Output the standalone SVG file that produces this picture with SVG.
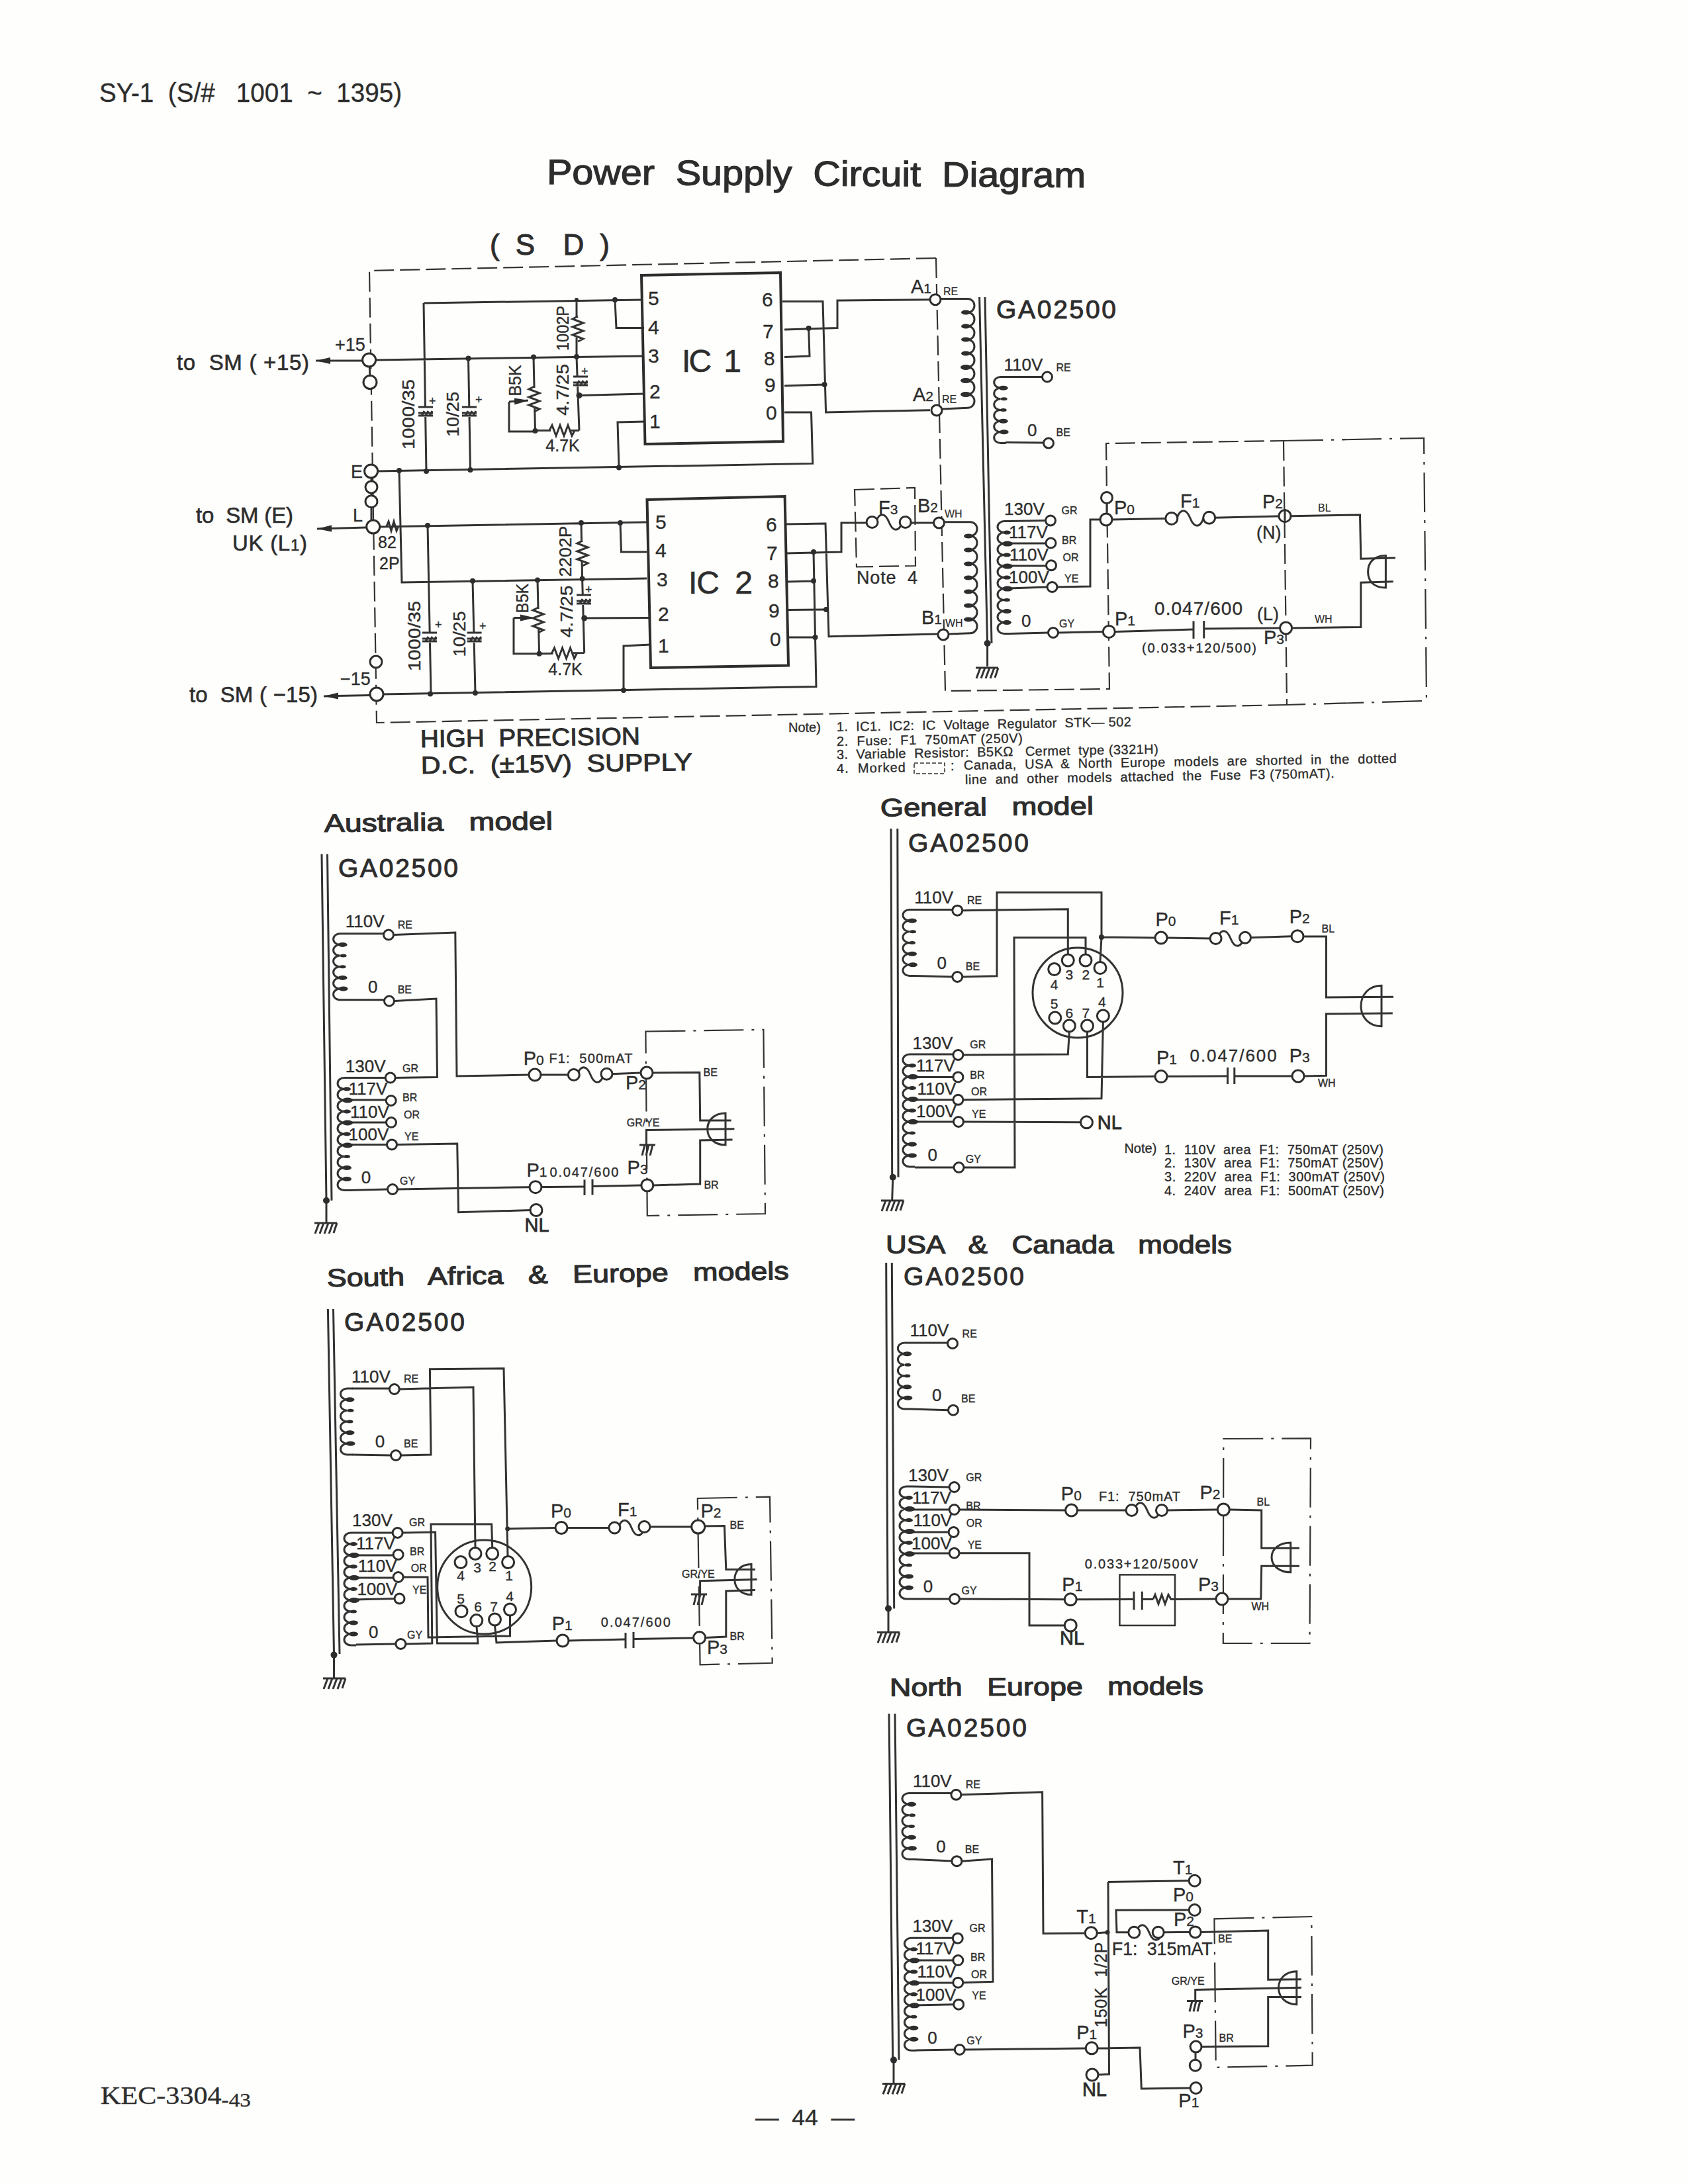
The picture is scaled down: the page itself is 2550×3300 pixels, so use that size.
<svg xmlns="http://www.w3.org/2000/svg" width="2550" height="3300" viewBox="0 0 2550 3300">
<style>
text{font-family:"Liberation Sans",Arial,sans-serif;fill:#2d2d2d;stroke:#2d2d2d;stroke-width:.35;white-space:pre}
.w path{fill:none;stroke:#333;stroke-width:3;stroke-linejoin:miter}
.d{fill:none;stroke:#333;stroke-width:2.2;stroke-dasharray:30 9}
.dd{fill:none;stroke:#333;stroke-width:2.2;stroke-dasharray:60 12 4 12}
.ln{fill:none;stroke:#333;stroke-width:3}
.box{fill:none;stroke:#2d2d2d;stroke-width:4}
.t{fill:#fefefc;stroke:#2d2d2d;stroke-width:3}
.dot{fill:#2d2d2d}
.v{font-size:26px}
.c{font-size:16px;stroke-width:.2px}
.p{font-size:29px}
.sub{font-size:21px}
.h{font-size:38px;stroke-width:1.2px}
.g{font-size:39px;stroke-width:1px}
.m{font-size:20px}
.n{font-size:20px}
.pin{font-size:30px}
.ic{font-size:48px;stroke-width:.6px}
.big{font-size:33px;stroke-width:.6px}
.rot{font-size:25px;text-anchor:middle}
.mid{text-anchor:middle}
.soc{font-size:21px;text-anchor:middle}
</style>
<defs>
<marker id="arr" markerUnits="userSpaceOnUse" markerWidth="24" markerHeight="12" refX="22" refY="6" orient="auto"><path d="M0,1 L22,6 L0,11 Z" fill="#2d2d2d"/></marker>
<g id="coilU"><path class="ln" d="M18,0 H10 a10,8.33 0 0 0 0,16.67 a10,8.33 0 0 0 0,16.67 a10,8.33 0 0 0 0,16.67 a10,8.33 0 0 0 0,16.67 a10,8.33 0 0 0 0,16.67 a10,8.33 0 0 0 0,16.67 H18"/><g class="dot"><ellipse cx="14" cy="16.7" rx="7" ry="3.5"/><ellipse cx="15" cy="33.3" rx="5" ry="2.5"/><ellipse cx="14" cy="50" rx="5" ry="2.5"/><ellipse cx="14" cy="66.7" rx="7" ry="3.5"/><ellipse cx="15" cy="83.3" rx="7" ry="3.5"/></g></g>
<g id="coilL"><path class="ln" d="M18,0 H10 a10,8.5 0 0 0 0,17 a10,8.5 0 0 0 0,17 a10,8.5 0 0 0 0,17 a10,8.5 0 0 0 0,17 a10,8.5 0 0 0 0,17 a10,8.5 0 0 0 0,17 a10,8.5 0 0 0 0,17 a10,8.5 0 0 0 0,17 a10,8.5 0 0 0 0,17 a10,8.5 0 0 0 0,17 H18"/><g class="dot"><ellipse cx="14" cy="17" rx="6" ry="3"/><ellipse cx="15" cy="34" rx="8" ry="4"/><ellipse cx="14" cy="51" rx="6" ry="3"/><ellipse cx="15" cy="68" rx="8" ry="4"/><ellipse cx="14" cy="85" rx="6" ry="3"/><ellipse cx="15" cy="102" rx="8" ry="4"/><ellipse cx="14" cy="119" rx="5" ry="2.5"/><ellipse cx="14" cy="136" rx="7" ry="3.5"/><ellipse cx="14" cy="153" rx="7" ry="3.5"/></g></g>
<g id="gnd"><path class="ln" d="M-17,0 H17 M-10,0 l-6,16 M-3,0 l-6,16 M4,0 l-6,16 M11,0 l-6,16 M17,0 l-5,15"/></g>
<g id="gnds"><path class="ln" d="M-12,0 H12 M-4,0 l-4,16 M2,0 l-4,16 M8,0 l-4,16"/></g>
<path id="wave" class="ln" d="M0,0 c5,-15 14,-15 20,0 c6,15 15,15 20,0"/>
<g id="rh"><rect x="-15" y="-9" width="30" height="18" fill="#fefefc"/><path class="ln" d="M-17,0 l4,-8 l6,16 l6,-16 l6,16 l6,-16 l6,16 l4,-8"/></g>
<g id="rv"><rect x="-9" y="-15" width="18" height="30" fill="#fefefc"/><path class="ln" d="M0,-17 l-8,4 l16,6 l-16,6 l16,6 l-16,6 l16,6 l-8,4"/></g>
<g id="ecap"><rect x="-10" y="-8" width="20" height="16" fill="#fefefc"/><path class="ln" stroke-width="2" d="M-11,-7 H11 M-11,6 H11 M-11,2 H11 M-6,6 L-2,-1 M0,6 L4,-1 M6,6 L10,-1"/></g>
</defs>
<rect id="page" width="2550" height="3300" fill="#fefefc"/>

<g id="page-text">
<text x="150" y="154" font-size="40" textLength="457" lengthAdjust="spacingAndGlyphs">SY-1  (S/#   1001  ~  1395)</text>
<text x="826" y="278" font-size="53" style="stroke-width:1.2px" textLength="814" lengthAdjust="spacingAndGlyphs" transform="rotate(.35 826 278)">Power  Supply  Circuit  Diagram</text>
<text x="152" y="3179" font-size="38" style="font-family:'Liberation Serif',serif" textLength="227" lengthAdjust="spacingAndGlyphs">KEC-3304<tspan font-size="30" dy="4">-43</tspan></text>
<text x="1141" y="3211" font-size="34" textLength="150" lengthAdjust="spacingAndGlyphs">—  44  —</text>
</g>

<g id="connectors" class="w">
<g id="wires-main">
<path d="M640,458 L969,453 M640,458 L644,712 M929,453 L931,495.5 L973,495.5 M567,544 L973,538 M707.5,541.6 L710.5,710 M570,712 L1227.7,700.4 L1225.5,623 L1185,623 M935,706.4 L933,638 L974.5,637 M603,711 L607,880 L977,874 M871,453 L871,539 L875,650.6 M875,597.5 L973,595 M808.5,650.6 L875,650.6 M806,539.5 L808.5,650.6 M769,607 L769,652 L808.5,652"/>
<path d="M769,607 L799,605" marker-end="url(#arr)"/>
<path d="M1182,455.4 L1243,455.4 L1247.6,623 L1405,619.7 M1185,498 L1265,495.5 L1265,454 L1404,452.7 M1221.6,496 L1223,538 L1185,539.5 M1185,583 L1245.5,581"/>
<path d="M575,796 L977,789 M937,790 L938.5,834 L977,834 M646,794 L651,1048 M714,877.7 L718,1047 M878,790 L879.6,874.4 L882.7,986.6 M882.7,934 L983,933.5 M814.6,987.7 L882.7,986.6 M812,876.6 L814.6,987.7 M776,933.5 L776,987.7 L814.6,987.7"/>
<path d="M776,933.5 L808,933.5" marker-end="url(#arr)"/>
<path d="M577.5,1049 L1233,1037.5 L1231.5,963 L1191,963 M942,1043 L942,976 L983,974 M1188,792 L1247,791 L1252,961.7 L1416.6,958 M1188,836 L1271,834 L1271,790 L1309,790 M1229,834 L1231.5,963 M1189,879 L1229,878 M1191,921.6 L1248,921 M1376,790 L1410,790"/>
<path d="M558,544 L559,577 M561,712 L561,796"/>
<path d="M547,545 L477,545" marker-end="url(#arr)"/>
<path d="M554,797 L479,799" marker-end="url(#arr)"/>
<path d="M560,1050.5 L489,1052" marker-end="url(#arr)"/>
<path d="M1519,569.5 H1574 M1519,668.5 L1576,669 M1525,787.6 L1579,786.6 M1521,821 H1579 M1521,855 H1580 M1521,889 L1582,887 M1525,957.6 L1583,956 M1597,887 L1647,886 L1647,785 L1661,785"/>
<path d="M1599,956 L1665,954.5 M1685,954.4 L1803,951 M1818.7,950 L1933,949"/>
<path d="M1681,785 L1761,783.4 M1835,782.3 L1931,780 M1951,779.7 L2054.5,778 L2055.8,844.3 L2108,843 M1952,949 L2055.8,947.5 L2055.8,880.3 L2104.8,878.7 M1672,760 V775"/>
<path d="M1941,769 V790"/>
</g>
<g id="wires-australia">
<path d="M521,1410.7 H580 M521,1510.7 H581 M528,1628.5 H582 M524,1662 H583 M524,1696 H584 M524,1729.5 H585 M528,1798.5 L586,1797"/>
<path d="M595,1412.5 L687.8,1409 L690,1626 L799,1624 M596,1512.5 L659,1509 L660.5,1627.6 L598,1628.5 M600,1729.4 L690.7,1728 L692.6,1831.7 L802,1828.5 M601,1797 L800,1793.7 L883,1793 M895,1792.5 L968,1791 M817,1624 L859,1624 M924,1622.7 L968,1621 M986,1621 L1056.8,1620.5 L1057.7,1693 L1104.6,1693 M987,1791 L1057.7,1789 L1057.7,1723 L1106.5,1722 M976.4,1729 L976.4,1707.6 L1109.4,1705.8"/>
</g>
<g id="wires-southafrica">
<path d="M532,2098 H588 M532,2198 L590,2199 M538,2316 H593 M534,2350 H594 M534,2384 H594 M534,2417 L596,2415.6 M538,2485 L597,2484"/>
<path d="M603,2099 L715,2096 L718,2338 M606,2199 L651,2198 L649.4,2068.7 L761,2067.8 L767,2351 M608,2316 L657.6,2315 L660.4,2483 L722,2483 L720,2458 M613,2484 L652.8,2483 L651,2303 L742.7,2303 L743.7,2338 M609,2383 L646,2383 L647,2474 L770.5,2472 L770.5,2441 M747.5,2456 L750,2482 L841,2479 M858,2479 L945,2477 M957,2476.5 L1047,2475 M766.7,2310 L840,2308.5 M857,2308.5 L920,2308.5 M982,2307 L1045,2307 M1064,2306 L1094.4,2305.5 L1096.8,2371.4 L1141,2371.4 M1066,2474.6 L1096.8,2473 L1096.8,2404 L1141,2402.6 M1057.6,2408 L1057.6,2388.7 L1143.7,2386.6"/>
</g>
<g id="wires-general">
<path d="M1382,1374.5 H1439 M1382,1474.5 L1439,1476 M1382,1593 H1440 M1378,1627.4 H1440 M1378,1661.8 H1440 M1378,1695 H1441 M1382,1764 H1441"/>
<path d="M1454,1375.7 L1613.3,1373.7 L1613.3,1442 M1454,1476 L1506,1474.8 L1506,1348.4 L1664,1348.4 L1664,1416 L1662,1453 M1456,1764 L1533,1764 L1532,1416.8 L1640,1416.8 L1640,1442 M1455,1594 L1613.3,1593 L1615.4,1559 M1455,1661.8 L1664,1659.7 L1666.4,1544 M1456,1695 L1633,1695.8 M1642.5,1559 L1642.5,1627.4 L1745,1626.6 M1763,1626.6 L1854.5,1626 M1864.8,1626 L1952,1626 M1970,1626 L2003.5,1625.3 L2003.5,1532 L2103.8,1531 M1664,1416 L1745,1417 M1763,1417 L1829,1418 M1889,1416.8 L1951,1414.7 M1969,1415 L2003.5,1415 L2003.5,1507 L2105,1506.3"/>
</g>
<g id="wires-usa">
<path d="M1374,2029 H1432 M1374,2129 L1433,2130.7 M1377,2246 L1434,2247 M1373,2281 H1434 M1373,2315 H1433 M1373,2347 H1434 M1377,2416 H1435"/>
<path d="M1449,2281 L1609,2282 M1628,2282 L1702,2282 M1764,2282 L1839,2281 M1858,2281 L1905.7,2282 L1905.7,2339.2 L1963,2339.2 M1449,2346.7 L1555,2346.7 L1555,2456 L1608,2456 M1450,2416 L1608,2416.8 M1627,2416.8 L1713,2416.5 M1725.3,2416.5 L1742,2416.5 M1772,2416.5 L1837,2416 M1855,2416 L1904.8,2416 L1905.7,2366.2 L1963,2366.2"/>
</g>
<g id="wires-north">
<path d="M1381,2709.5 H1437 M1381,2809.5 L1438,2812 M1384,2928.3 H1439 M1380,2962 H1440 M1380,2996 H1440 M1380,3030 L1441,3028.7 M1384,3098 L1442,3097"/>
<path d="M1452,2711.8 L1574.6,2707.8 L1576,2921.6 L1640,2921 M1657,2920.7 L1673,2919.8 M1453,2812.2 L1498.5,2809 L1500,2994.3 L1455,2995.7 M1457,3097 L1640,3095 M1659,3095 L1722,3094 L1724.3,3156 L1798,3155 M1674,2843.5 L1675.5,3134 L1658,3135 M1674,2843.5 L1796,2841.7 M1796,2886 L1686,2886.3 L1687,2919.8 L1705,2919.8 M1758,2919.8 L1797,2919.4 M1814,2919.4 L1915.7,2917 L1915.7,2991.2 L1966,2990.8 M1815,3092.6 L1915.7,3091.7 L1915.7,3017.6 L1966,3017.6 M1806,3100 L1806,3112 M1805.7,3023.4 L1805.7,3006.4 L1966,3003.3"/>
</g>
</g>

<g id="frames">
<path class="d" d="M1414,390 L558,409 L569,1092 L1944,1065"/>
<path class="d" d="M1414,390 L1428,1044 L1676,1041 L1671,670 L1939,666"/>
<path class="dd" d="M1939,666 L2151,662 L2155,1059 L1944,1065"/>
<path class="d" d="M1939,666 L1944,1065"/>
<path class="d" d="M1291,740 L1382,737 L1383,855 L1294,856.5 Z"/>
<path class="dd" d="M975.4,1558.5 L1153.4,1555.8 L1156,1834 L977.8,1837 Z"/>
<path class="dd" d="M1053.8,2264 L1163,2261.7 L1166.7,2512.8 L1057.6,2515.4 Z"/>
<path class="dd" d="M1848.3,2174 L1980,2173.4 L1978.5,2483 L1847.8,2483 Z"/>
<path class="dd" d="M1834.4,2899.3 L1981.3,2896 L1982.7,3120.7 L1836.8,3123.8 Z"/>
</g>

<g id="main-labels">
<text x="740" y="385" font-size="44" textLength="181" style="stroke-width:1px">( S  D )</text>
<text class="big" x="267" y="559" textLength="200">to  SM ( +15)</text>
<text class="big" x="296" y="790" textLength="147">to  SM (E)</text>
<text class="big" x="351" y="832" textLength="113">UK (L<tspan font-size="24">1</tspan>)</text>
<text class="big" x="286" y="1061" textLength="194">to  SM ( −15)</text>
<text x="506" y="530" font-size="27">+15</text>
<text x="514" y="1035" font-size="27">−15</text>
<text x="530" y="722" font-size="27">E</text>
<text x="533" y="788" font-size="27">L</text>
<text x="571" y="828" font-size="25">82</text>
<text x="573" y="860" font-size="25">2P</text>
<text x="635" y="1129" font-size="37" style="stroke-width:1px" textLength="332" lengthAdjust="spacingAndGlyphs" transform="rotate(-.7 635 1129)">HIGH  PRECISION</text>
<text x="636" y="1169" font-size="37" style="stroke-width:1px" textLength="410" lengthAdjust="spacingAndGlyphs" transform="rotate(-.7 636 1169)">D.C.  (±15V)  SUPPLY</text>
</g>

<g id="ic1">
<path class="box" d="M969,416 L1179,412 L1183,667 L974.5,671 Z"/>
<text class="ic" x="1030" y="562" textLength="90">IC  1</text>
<g class="pin"><text x="979" y="461">5</text><text x="979" y="505">4</text><text x="979" y="548">3</text><text x="981" y="602">2</text><text x="981" y="647">1</text><text x="1151" y="463">6</text><text x="1152" y="511">7</text><text x="1154" y="552">8</text><text x="1155" y="592">9</text><text x="1157" y="634">0</text></g>
</g>
<g id="ic2">
<path class="box" d="M977.5,755 L1185.6,750 L1191,1005.6 L983,1009 Z"/>
<text class="ic" x="1040" y="897" textLength="97">IC  2</text>
<g class="pin"><text x="990" y="799">5</text><text x="990" y="842">4</text><text x="992" y="886">3</text><text x="994" y="938">2</text><text x="994" y="986">1</text><text x="1157" y="803">6</text><text x="1158" y="846">7</text><text x="1160" y="888">8</text><text x="1161" y="933">9</text><text x="1163" y="976">0</text></g>
</g>
<g id="ic1-parts">
<use href="#ecap" x="643" y="622"/><use href="#ecap" x="709" y="622"/><use href="#ecap" x="877" y="576"/>
<use href="#rv" x="873" y="495"/><use href="#rv" x="807" y="601"/><use href="#rh" x="847" y="650.5"/>
<g class="dot"><circle cx="707.5" cy="541.6" r="4"/><circle cx="806" cy="539.5" r="4"/><circle cx="871" cy="539" r="4"/><circle cx="929" cy="453" r="4"/><circle cx="871" cy="453" r="3"/><circle cx="875" cy="597.5" r="4.5"/><circle cx="808.5" cy="651" r="4"/><circle cx="644" cy="712" r="4"/><circle cx="710.5" cy="710" r="4"/><circle cx="935" cy="706.4" r="4"/><circle cx="603" cy="711" r="4"/><circle cx="1221.6" cy="496" r="4"/><circle cx="1245.5" cy="581" r="4"/></g>
<text transform="translate(859,496) rotate(-90)" class="rot" textLength="68" lengthAdjust="spacingAndGlyphs">1002P</text><text transform="translate(859,589) rotate(-90)" class="rot" textLength="78" lengthAdjust="spacingAndGlyphs">4.7/25</text><text transform="translate(787,575) rotate(-90)" class="rot" textLength="47" lengthAdjust="spacingAndGlyphs">B5K</text><text transform="translate(626,626) rotate(-90)" class="rot" textLength="106" lengthAdjust="spacingAndGlyphs">1000/35</text><text transform="translate(693,626) rotate(-90)" class="rot" textLength="68" lengthAdjust="spacingAndGlyphs">10/25</text>
<text x="648" y="612" font-size="18">+</text><text x="718" y="610" font-size="18">+</text><text x="878" y="567" font-size="18">+</text>
<text x="850" y="682" font-size="25" class="mid">4.7K</text>
</g>
<g id="ic2-parts">
<use href="#ecap" x="649" y="963"/><use href="#ecap" x="716.6" y="963"/><use href="#ecap" x="882" y="906"/>
<use href="#rv" x="880" y="834"/><use href="#rv" x="813" y="935"/><use href="#rh" x="850.5" y="987"/>
<path class="ln" d="M584,795 l3,-7 l4,14 l4,-14 l4,14 l3,-7"/>
<g class="dot"><circle cx="646" cy="794" r="4"/><circle cx="878" cy="790" r="4"/><circle cx="937" cy="790" r="4"/><circle cx="714" cy="877.7" r="4"/><circle cx="812" cy="876.6" r="4"/><circle cx="879.6" cy="874.4" r="4"/><circle cx="882.7" cy="934" r="4.5"/><circle cx="814.6" cy="987.7" r="4"/><circle cx="650" cy="1048.4" r="4"/><circle cx="718" cy="1047" r="4"/><circle cx="942" cy="1043" r="4"/><circle cx="1229" cy="834" r="4"/><circle cx="1229" cy="877.7" r="4"/><circle cx="1248" cy="921" r="4"/><circle cx="1231.5" cy="963" r="4"/></g>
<text transform="translate(863,833) rotate(-90)" class="rot" textLength="77" lengthAdjust="spacingAndGlyphs">2202P</text><text transform="translate(865,924) rotate(-90)" class="rot" textLength="79" lengthAdjust="spacingAndGlyphs">4.7/25</text><text transform="translate(798,904) rotate(-90)" class="rot" textLength="45" lengthAdjust="spacingAndGlyphs">B5K</text><text transform="translate(635,961) rotate(-90)" class="rot" textLength="106" lengthAdjust="spacingAndGlyphs">1000/35</text><text transform="translate(703,958) rotate(-90)" class="rot" textLength="69" lengthAdjust="spacingAndGlyphs">10/25</text>
<text x="657" y="950" font-size="18">+</text><text x="724" y="952" font-size="18">+</text><text x="884" y="897" font-size="18">+</text>
<text x="854" y="1020" font-size="25" class="mid">4.7K</text>
</g>
<g id="main-terminals">
<circle class="t" cx="557.6" cy="544" r="10"/><circle class="t" cx="559" cy="577.6" r="10"/><circle class="t" cx="560.6" cy="712" r="10"/><circle class="t" cx="561" cy="736" r="9"/><circle class="t" cx="561" cy="757.7" r="9"/><circle class="t" cx="563.7" cy="796" r="10"/><circle class="t" cx="568" cy="1000" r="9"/><circle class="t" cx="569" cy="1049" r="10"/>
<circle class="t" cx="1413" cy="452.7" r="8"/><circle class="t" cx="1415" cy="620" r="8"/><circle class="t" cx="1418.5" cy="790" r="8"/><circle class="t" cx="1425" cy="959" r="8"/>
<text class="p" x="1376" y="443">A<tspan class="sub">1</tspan></text><text class="p" x="1379" y="606">A<tspan class="sub">2</tspan></text><text class="p" x="1386" y="774">B<tspan class="sub">2</tspan></text><text class="p" x="1392" y="943">B<tspan class="sub">1</tspan></text>
<text class="c" x="1425" y="446">RE</text><text class="c" x="1423" y="609">RE</text><text class="c" x="1427" y="782">WH</text><text class="c" x="1428" y="947">WH</text>
</g>
<g id="fuse-f3">
<use href="#wave" x="1323" y="789"/><circle class="t" cx="1317.5" cy="789" r="8.5"/><circle class="t" cx="1367.7" cy="789" r="8.5"/>
<text class="p" x="1327" y="777">F<tspan class="sub">3</tspan></text>
<text x="1294" y="882" font-size="27" textLength="92">Note  4</text>
</g>
<g id="main-transformer">
<path class="ln" d="M1479.6,449 L1491.6,972 M1488,449 L1498,972 M1491.6,972 L1491.6,1007"/>
<circle class="dot" cx="1491.6" cy="972" r="5"/>
<use href="#gnd" x="1491" y="1009"/>
<path class="ln" d="M1421,451.5 H1462 a10,10.3 0 0 1 0,20.6 a10,10.3 0 0 1 0,20.6 a10,10.3 0 0 1 0,20.6 a10,10.3 0 0 1 0,20.6 a10,10.3 0 0 1 0,20.6 a10,10.3 0 0 1 0,20.6 a10,10.3 0 0 1 0,20.6 a10,10.3 0 0 1 0,20.6 L1423,618"/>
<path class="ln" d="M1426,788.7 H1466 a10,10.5 0 0 1 0,21 a10,10.5 0 0 1 0,21 a10,10.5 0 0 1 0,21 a10,10.5 0 0 1 0,21 a10,10.5 0 0 1 0,21 a10,10.5 0 0 1 0,21 a10,10.5 0 0 1 0,21 a10,10.5 0 0 1 0,21 L1433,958"/>
<g class="dot"><ellipse cx="1459" cy="472" rx="7" ry="3.5"/><ellipse cx="1459" cy="493" rx="7" ry="3.5"/><ellipse cx="1459" cy="513" rx="7" ry="3.5"/><ellipse cx="1459" cy="534" rx="7" ry="3.5"/><ellipse cx="1459" cy="555" rx="8" ry="4"/><ellipse cx="1459" cy="575" rx="8" ry="4"/><ellipse cx="1459" cy="596" rx="8" ry="4"/>
<ellipse cx="1463" cy="810" rx="7" ry="3.5"/><ellipse cx="1463" cy="831" rx="7" ry="3.5"/><ellipse cx="1463" cy="852" rx="7" ry="3.5"/><ellipse cx="1463" cy="873" rx="7" ry="3.5"/><ellipse cx="1463" cy="894" rx="7" ry="3.5"/><ellipse cx="1463" cy="915" rx="7" ry="3.5"/><ellipse cx="1463" cy="936" rx="7" ry="3.5"/></g>
<use href="#coilU" x="1501.7" y="569.5"/><use href="#coilL" x="1507" y="787.6"/>
<circle class="t" cx="1582" cy="569.5" r="7.5"/><circle class="t" cx="1584" cy="669.6" r="7.5"/><circle class="t" cx="1587" cy="786.6" r="7.5"/><circle class="t" cx="1587.5" cy="820.5" r="7.5"/><circle class="t" cx="1588" cy="854.3" r="7.5"/><circle class="t" cx="1589.5" cy="887" r="7.5"/><circle class="t" cx="1591" cy="956" r="7.5"/>
<text class="g" x="1505" y="481" textLength="181">GA02500</text>
<g class="v"><text x="1516.5" y="560">110V</text><text x="1552" y="659">0</text><text x="1517" y="778">130V</text><text x="1524" y="812.5">117V</text><text x="1525" y="847">110V</text><text x="1524" y="881">100V</text><text x="1543" y="946.5">0</text></g>
<g class="c"><text x="1595.5" y="561">RE</text><text x="1595.5" y="659">BE</text><text x="1603.6" y="777">GR</text><text x="1604" y="822">BR</text><text x="1605.6" y="847.5">OR</text><text x="1608" y="880">YE</text><text x="1600" y="948">GY</text></g>
</g>
<g id="main-output">
<use href="#wave" x="1778" y="783"/>
<path class="ln" d="M1803,938.5 V965 M1818.7,938 V964.5"/>
<path class="ln" d="M2093.4,839.5 C2075,840 2066.6,850 2066.6,864 C2066.6,878 2075,888 2093.4,888 Z"/>
<circle class="t" cx="1672" cy="752" r="8.5"/><circle class="t" cx="1671" cy="785" r="9"/><circle class="t" cx="1769.8" cy="783.4" r="9"/><circle class="t" cx="1826.7" cy="782.3" r="9"/><circle class="t" cx="1941" cy="779.7" r="9"/><circle class="t" cx="1675.3" cy="954.4" r="9"/><circle class="t" cx="1942.6" cy="949" r="9"/>
<path class="ln" d="M1941,771 V789"/>
<text class="p" x="1683" y="777">P<tspan class="sub">0</tspan></text><text class="p" x="1783" y="767">F<tspan class="sub">1</tspan></text><text class="p" x="1907" y="768">P<tspan class="sub">2</tspan></text><text class="p" x="1684" y="945">P<tspan class="sub">1</tspan></text><text class="p" x="1909" y="973">P<tspan class="sub">3</tspan></text>
<text x="1898" y="814" font-size="27">(N)</text><text x="1899" y="937" font-size="27">(L)</text>
<text x="1744" y="929" font-size="28" textLength="133">0.047/600</text><text x="1725" y="986" font-size="20" textLength="173">(0.033+120/500)</text>
<text class="c" x="1991" y="773">BL</text><text class="c" x="1986" y="941">WH</text>
</g>
<g id="main-notes" class="n">
<text x="1191" y="1106">Note)</text>
<text x="1264" y="1105" textLength="445" transform="rotate(-1 1264 1105)">1.  IC1.  IC2:  IC  Voltage  Regulator  STK— 502</text>
<text x="1264" y="1127" textLength="281" transform="rotate(-1 1264 1127)">2.  Fuse:  F1  750mAT (250V)</text>
<text x="1264" y="1147" textLength="486" transform="rotate(-1 1264 1147)">3.  Variable  Resistor:  B5KΩ   Cermet  type (3321H)</text>
<text x="1264" y="1168" textLength="104" transform="rotate(-1 1264 1168)">4.  Morked</text>
<rect x="1381" y="1153" width="46" height="16" fill="none" stroke="#333" stroke-width="1.6" stroke-dasharray="6 3"/>
<text x="1436" y="1164">:</text>
<text x="1456" y="1163" textLength="654" transform="rotate(-.9 1456 1163)">Canada,  USA  &amp;  North  Europe  models  are  shorted  in  the  dotted</text>
<text x="1458" y="1185" textLength="558" transform="rotate(-1 1458 1185)">line  and  other  models  attached  the  Fuse  F3 (750mAT).</text>
</g>

<g id="australia">
<text class="h" x="490" y="1257" textLength="345" lengthAdjust="spacingAndGlyphs" transform="rotate(-.6 490 1257)">Australia   model</text>
<text class="g" x="511" y="1325" textLength="181">GA02500</text>
<path class="ln" d="M486,1290.6 L493,1814 M494.5,1290.6 L501,1814 M493,1814 V1847"/>
<circle class="dot" cx="493" cy="1814" r="5"/><use href="#gnd" x="492" y="1848"/>
<use href="#coilU" x="503.6" y="1410.7"/><use href="#coilL" x="510" y="1628.5"/>
<use href="#wave" x="872" y="1624"/>
<path class="ln" d="M883,1782.6 V1806 M895,1782 V1805.5"/>
<use href="#gnds" x="978" y="1730"/>
<path class="ln" d="M1096,1682 C1080,1682 1068.7,1692 1068.7,1706 C1068.7,1720 1080,1730 1096,1730 Z"/>
<circle class="t" cx="587" cy="1412.5" r="7.5"/><circle class="t" cx="588" cy="1512.5" r="7.5"/><circle class="t" cx="589.7" cy="1628.5" r="7.5"/><circle class="t" cx="590.7" cy="1663" r="7.5"/><circle class="t" cx="591" cy="1696" r="7.5"/><circle class="t" cx="592" cy="1729.4" r="7.5"/><circle class="t" cx="593" cy="1797" r="7.5"/>
<circle class="t" cx="808" cy="1624" r="9"/><circle class="t" cx="866.8" cy="1624" r="8.5"/><circle class="t" cx="916.5" cy="1622.7" r="8.5"/><circle class="t" cx="977" cy="1621" r="9"/><circle class="t" cx="809" cy="1793.7" r="9"/><circle class="t" cx="977.8" cy="1791" r="9"/><circle class="t" cx="810" cy="1828.5" r="9"/>
<g class="v"><text x="521.8" y="1401">110V</text><text x="556" y="1500">0</text><text x="521.8" y="1620">130V</text><text x="526.6" y="1654">117V</text><text x="529" y="1689">110V</text><text x="526.6" y="1723">100V</text><text x="545.7" y="1788">0</text></g>
<g class="c"><text x="600.7" y="1403">RE</text><text x="600.7" y="1501">BE</text><text x="608" y="1620">GR</text><text x="608" y="1664">BR</text><text x="610" y="1690">OR</text><text x="611" y="1723">YE</text><text x="604" y="1790">GY</text><text x="1062.5" y="1626">BE</text><text x="1063.4" y="1796">BR</text><text x="946.7" y="1702">GR/YE</text></g>
<text class="p" x="790.7" y="1608.5">P<tspan class="sub">0</tspan></text><text class="m" x="829.4" y="1606" textLength="126">F1:  500mAT</text><text class="p" x="945" y="1645.5">P<tspan class="sub">2</tspan></text><text class="p" x="795.5" y="1778">P<tspan class="sub">1</tspan></text><text class="m" x="830.4" y="1778" textLength="104">0.047/600</text><text class="p" x="947.6" y="1773.6">P<tspan class="sub">3</tspan></text><text class="p mid" x="811" y="1861" style="stroke-width:.8px">NL</text>
</g>

<g id="south-africa">
<text class="h" x="494" y="1944" textLength="698" lengthAdjust="spacingAndGlyphs" transform="rotate(-.9 494 1944)">South   Africa   &amp;   Europe   models</text>
<text class="g" x="520" y="2011" textLength="182">GA02500</text>
<path class="ln" d="M495.4,1978 L504.5,2499 M503.5,1978 L513,2499 M504.5,2500 V2536"/>
<circle class="dot" cx="504.5" cy="2500.6" r="5"/><use href="#gnd" x="505" y="2536"/>
<use href="#coilU" x="514.5" y="2098"/><use href="#coilL" x="520" y="2316"/>
<circle cx="731.7" cy="2398" r="71" class="ln"/>
<use href="#wave" x="934" y="2308.5"/>
<path class="ln" d="M945,2467 V2490.6 M957,2466 V2490"/>
<use href="#gnds" x="1056" y="2409"/>
<path class="ln" d="M1135,2363.6 C1120,2363.6 1109.8,2373 1109.8,2386.6 C1109.8,2400 1120,2409.6 1135,2409.6 Z"/>
<circle class="t" cx="595.8" cy="2099" r="7.5"/><circle class="t" cx="598" cy="2199" r="7.5"/><circle class="t" cx="600.6" cy="2316" r="7.5"/><circle class="t" cx="601.6" cy="2349" r="7.5"/><circle class="t" cx="601.6" cy="2383" r="7.5"/><circle class="t" cx="603.5" cy="2415.6" r="7.5"/><circle class="t" cx="605.4" cy="2484" r="7.5"/>
<circle class="t" cx="718" cy="2347.5" r="9"/><circle class="t" cx="743.7" cy="2347.5" r="9"/><circle class="t" cx="767.6" cy="2360.5" r="9"/><circle class="t" cx="696" cy="2360.5" r="9"/><circle class="t" cx="697" cy="2434.7" r="9"/><circle class="t" cx="719.8" cy="2448.6" r="9"/><circle class="t" cx="747.5" cy="2447" r="9"/><circle class="t" cx="770.5" cy="2432" r="9"/>
<circle class="dot" cx="766.7" cy="2310" r="3.5"/>
<circle class="t" cx="848" cy="2308.5" r="9"/><circle class="t" cx="928.4" cy="2308.5" r="8.5"/><circle class="t" cx="973.4" cy="2307" r="8.5"/><circle class="t" cx="1054.7" cy="2307" r="10"/><circle class="t" cx="850" cy="2479" r="9"/><circle class="t" cx="1056.6" cy="2474.6" r="9"/>
<g class="soc"><text x="721" y="2376">3</text><text x="744" y="2374">2</text><text x="769" y="2388">1</text><text x="696" y="2388">4</text><text x="696" y="2423">5</text><text x="722" y="2435">6</text><text x="746" y="2435">7</text><text x="770" y="2419">4</text></g>
<g class="v"><text x="531" y="2088.6">110V</text><text x="566.7" y="2187">0</text><text x="532" y="2306">130V</text><text x="538" y="2341">117V</text><text x="540.8" y="2375">110V</text><text x="539.4" y="2409.6">100V</text><text x="557" y="2474.6">0</text></g>
<g class="c"><text x="610" y="2088.6">RE</text><text x="610" y="2187">BE</text><text x="618" y="2305.5">GR</text><text x="619" y="2349.7">BR</text><text x="620.7" y="2375">OR</text><text x="623" y="2408">YE</text><text x="615" y="2476.4">GY</text><text x="1102.6" y="2309.8">BE</text><text x="1102.6" y="2477.6">BR</text><text x="1030" y="2384.4">GR/YE</text></g>
<text class="p" x="832" y="2292.5">P<tspan class="sub">0</tspan></text><text class="p" x="933" y="2291">F<tspan class="sub">1</tspan></text><text class="p" x="1058.5" y="2293">P<tspan class="sub">2</tspan></text><text class="p" x="833.7" y="2462.5">P<tspan class="sub">1</tspan></text><text class="m" x="907.8" y="2458" textLength="105">0.047/600</text><text class="p" x="1068" y="2499">P<tspan class="sub">3</tspan></text>
</g>

<g id="general">
<text class="h" x="1330" y="1233.5" textLength="322" lengthAdjust="spacingAndGlyphs" transform="rotate(-.5 1330 1233.5)">General   model</text>
<text class="g" x="1372" y="1287" textLength="182">GA02500</text>
<path class="ln" d="M1346,1252 L1347.7,1778.7 M1355.8,1252 L1357,1778.7 M1348.8,1778.7 L1347.7,1813"/>
<circle class="dot" cx="1348.8" cy="1778.7" r="5"/><use href="#gnd" x="1348" y="1814"/>
<use href="#coilU" x="1364" y="1374.5"/><use href="#coilL" x="1364" y="1593"/>
<circle cx="1628" cy="1500" r="68" class="ln"/>
<use href="#wave" x="1839" y="1418"/>
<path class="ln" d="M1854.5,1613 V1638 M1864.8,1613 V1638"/>
<path class="ln" d="M2087,1489.3 C2068,1489.3 2056,1503 2056,1520 C2056,1537 2068,1550.7 2087,1550.7 Z"/>
<circle class="dot" cx="1664" cy="1416" r="4"/>
<circle class="t" cx="1446.3" cy="1375.7" r="7.5"/><circle class="t" cx="1446.3" cy="1476" r="7.5"/><circle class="t" cx="1447.4" cy="1594" r="7.5"/><circle class="t" cx="1447.4" cy="1627.4" r="7.5"/><circle class="t" cx="1447.4" cy="1661.8" r="7.5"/><circle class="t" cx="1448" cy="1695" r="7.5"/><circle class="t" cx="1448.5" cy="1764" r="7.5"/>
<circle class="t" cx="1613.3" cy="1451" r="9"/><circle class="t" cx="1640" cy="1451" r="9"/><circle class="t" cx="1662" cy="1462.4" r="9"/><circle class="t" cx="1592.7" cy="1464.5" r="9"/><circle class="t" cx="1593.8" cy="1538" r="9"/><circle class="t" cx="1615.4" cy="1550" r="9"/><circle class="t" cx="1642.5" cy="1550" r="9"/><circle class="t" cx="1666.4" cy="1535" r="9"/>
<circle class="t" cx="1641.5" cy="1695.8" r="9"/><circle class="t" cx="1754" cy="1417" r="9"/><circle class="t" cx="1836.6" cy="1418" r="8.5"/><circle class="t" cx="1881" cy="1416.8" r="8.5"/><circle class="t" cx="1960" cy="1414.7" r="9"/><circle class="t" cx="1754" cy="1626.6" r="9"/><circle class="t" cx="1961" cy="1626" r="9"/>
<g class="soc"><text x="1615.4" y="1480">3</text><text x="1640.4" y="1480">2</text><text x="1662" y="1492">1</text><text x="1592.7" y="1495">4</text><text x="1592.7" y="1524">5</text><text x="1615.4" y="1538">6</text><text x="1640.4" y="1538">7</text><text x="1664.8" y="1521">4</text></g>
<g class="v"><text x="1381.3" y="1365">110V</text><text x="1415.4" y="1463.6">0</text><text x="1378.6" y="1584.7">130V</text><text x="1384" y="1619">117V</text><text x="1385.6" y="1653.5">110V</text><text x="1384" y="1687.5">100V</text><text x="1401.4" y="1754">0</text></g>
<g class="c"><text x="1461" y="1366">RE</text><text x="1458.8" y="1465.7">BE</text><text x="1465.3" y="1584">GR</text><text x="1465.3" y="1629.5">BR</text><text x="1467" y="1655">OR</text><text x="1468" y="1688.8">YE</text><text x="1458.8" y="1757">GY</text><text x="1996.5" y="1409">BL</text><text x="1991" y="1642">WH</text></g>
<text class="p" x="1745.5" y="1399.4">P<tspan class="sub">0</tspan></text><text class="p" x="1842" y="1397.3">F<tspan class="sub">1</tspan></text><text class="p" x="1947.7" y="1395">P<tspan class="sub">2</tspan></text><text class="p" x="1747" y="1608">P<tspan class="sub">1</tspan></text><text x="1797.6" y="1604" font-size="26" textLength="131">0.047/600</text><text class="p" x="1947.7" y="1605.4">P<tspan class="sub">3</tspan></text><text class="p" x="1657.7" y="1706" style="stroke-width:.8px">NL</text>
<g font-size="20"><text x="1698.4" y="1742" font-size="20">Note)</text>
<text class="n" x="1759" y="1743.5" textLength="331">1.  110V  area  F1:  750mAT (250V)</text>
<text class="n" x="1759" y="1764" textLength="331">2.  130V  area  F1:  750mAT (250V)</text>
<text class="n" x="1759" y="1785" textLength="333">3.  220V  area  F1:  300mAT (250V)</text>
<text class="n" x="1759" y="1805.7" textLength="332">4.  240V  area  F1:  500mAT (250V)</text></g>
</g>

<g id="usa-canada">
<text class="h" x="1338" y="1893.5" textLength="523" lengthAdjust="spacingAndGlyphs">USA   &amp;   Canada   models</text>
<text class="g" x="1365" y="1942" textLength="182">GA02500</text>
<path class="ln" d="M1338.7,1908 L1341,2430.4 M1347.3,1908 L1350.7,2430.4 M1342,2430.4 V2465.7"/>
<circle class="dot" cx="1342" cy="2430.4" r="5"/><use href="#gnd" x="1342" y="2466.5"/>
<use href="#coilU" x="1356.4" y="2029"/><use href="#coilL" x="1359" y="2246"/>
<use href="#wave" x="1713" y="2282"/>
<rect x="1691.4" y="2379.4" width="83.6" height="76.6" fill="none" stroke="#333" stroke-width="2.5"/>
<path class="ln" d="M1713,2404.7 V2432.5 M1725.3,2404.7 V2432.5 M1742,2416.5 l3,-7 l5,14 l5,-14 l5,14 l5,-14 l4,7 h3"/>
<path class="ln" d="M1949.7,2331 C1933,2331 1921,2340 1921,2353 C1921,2366 1933,2375.7 1949.7,2375.7 Z"/>
<circle class="t" cx="1439" cy="2030" r="7.5"/><circle class="t" cx="1440" cy="2130.7" r="7.5"/><circle class="t" cx="1441.6" cy="2247" r="7.5"/><circle class="t" cx="1441.6" cy="2281" r="7.5"/><circle class="t" cx="1440.6" cy="2315" r="7.5"/><circle class="t" cx="1441.6" cy="2346.7" r="7.5"/><circle class="t" cx="1442" cy="2416" r="7.5"/>
<circle class="t" cx="1618.6" cy="2282" r="9"/><circle class="t" cx="1709.6" cy="2282" r="8.5"/><circle class="t" cx="1755" cy="2282" r="8.5"/><circle class="t" cx="1848.3" cy="2281" r="9"/><circle class="t" cx="1617.2" cy="2416.8" r="9"/><circle class="t" cx="1846" cy="2416" r="9"/><circle class="t" cx="1617.2" cy="2456" r="9"/>
<g class="v"><text x="1374.6" y="2019">110V</text><text x="1408" y="2117.4">0</text><text x="1372" y="2237.7">130V</text><text x="1378" y="2271.6">117V</text><text x="1379.4" y="2306">110V</text><text x="1377" y="2340.5">100V</text><text x="1394.7" y="2405.6">0</text></g>
<g class="c"><text x="1453.6" y="2021">RE</text><text x="1452" y="2118.7">BE</text><text x="1459.3" y="2237.7">GR</text><text x="1459.3" y="2281">BR</text><text x="1459.8" y="2307">OR</text><text x="1461.7" y="2340">YE</text><text x="1452.6" y="2409">GY</text><text x="1898.6" y="2275">BL</text><text x="1890.4" y="2432.5">WH</text></g>
<text class="p" x="1602.8" y="2266.7">P<tspan class="sub">0</tspan></text><text class="m" x="1660" y="2268" textLength="123">F1:  750mAT</text><text class="p" x="1812.4" y="2264.6">P<tspan class="sub">2</tspan></text><text class="m" x="1638.7" y="2370.3" textLength="171">0.033+120/500V</text><text class="p" x="1604.3" y="2403.5">P<tspan class="sub">1</tspan></text><text class="p" x="1810" y="2404.3">P<tspan class="sub">3</tspan></text><text class="p" x="1601" y="2485" style="stroke-width:.8px">NL</text>
</g>

<g id="north-europe">
<text class="h" x="1344" y="2562.7" textLength="474" lengthAdjust="spacingAndGlyphs" transform="rotate(-.3 1344 2562.7)">North   Europe   models</text>
<text class="g" x="1369" y="2624" textLength="182">GA02500</text>
<path class="ln" d="M1343,2589.5 L1348.7,3112.6 M1352,2589.5 L1358,3112.6 M1350,3112.6 V3147.5"/>
<circle class="dot" cx="1350" cy="3112.6" r="5"/><use href="#gnd" x="1350" y="3148.4"/>
<use href="#coilU" x="1363" y="2709.5"/><use href="#coilL" x="1366.4" y="2928.3"/>
<use href="#wave" x="1716" y="2920"/>
<use href="#gnds" x="1805" y="3023.4"/>
<path class="ln" d="M1958.8,2978.7 C1942,2978.7 1931.5,2990 1931.5,3003.5 C1931.5,3017 1942,3028.7 1958.8,3028.7 Z"/>
<circle class="dot" cx="1673" cy="2919.8" r="3.5"/>
<circle class="t" cx="1444.4" cy="2711.8" r="7.5"/><circle class="t" cx="1445.4" cy="2812.2" r="7.5"/><circle class="t" cx="1446.8" cy="2928.7" r="7.5"/><circle class="t" cx="1447.3" cy="2962" r="7.5"/><circle class="t" cx="1447.3" cy="2995.7" r="7.5"/><circle class="t" cx="1448.2" cy="3028.7" r="7.5"/><circle class="t" cx="1449.7" cy="3097" r="7.5"/>
<circle class="t" cx="1648.3" cy="2920.7" r="9"/><circle class="t" cx="1649.2" cy="3094.8" r="9"/><circle class="t" cx="1650" cy="3135" r="9"/><circle class="t" cx="1804.7" cy="2841.7" r="8.5"/><circle class="t" cx="1804.7" cy="2886" r="8.5"/><circle class="t" cx="1713.3" cy="2919.8" r="8.5"/><circle class="t" cx="1749.7" cy="2919.8" r="8.5"/><circle class="t" cx="1805.7" cy="2919.4" r="8.5"/><circle class="t" cx="1806.6" cy="3092.6" r="8.5"/><circle class="t" cx="1805.7" cy="3120.7" r="8.5"/><circle class="t" cx="1806.6" cy="3155" r="8.5"/>
<g class="v"><text x="1378.9" y="2699.7">110V</text><text x="1414.3" y="2799.3">0</text><text x="1378.4" y="2918.5">130V</text><text x="1383.6" y="2952.8">117V</text><text x="1385.6" y="2987.7">110V</text><text x="1383.6" y="3022.5">100V</text><text x="1401.3" y="3088">0</text></g>
<g class="c"><text x="1458.8" y="2702">RE</text><text x="1457.8" y="2800">BE</text><text x="1464.5" y="2918.5">GR</text><text x="1466" y="2963">BR</text><text x="1467" y="2988.5">OR</text><text x="1468.3" y="3021">YE</text><text x="1460.2" y="3089.4">GY</text><text x="1840" y="2935">BE</text><text x="1841.6" y="3085">BR</text><text x="1769.8" y="2999">GR/YE</text></g>
<text class="p" x="1626.2" y="2906.4">T<tspan class="sub">1</tspan></text><text class="p" x="1772" y="2832.3">T<tspan class="sub">1</tspan></text><text class="p" x="1772" y="2872.5">P<tspan class="sub">0</tspan></text><text class="p" x="1773" y="2910.4">P<tspan class="sub">2</tspan></text><text class="p" x="1786.5" y="3079">P<tspan class="sub">3</tspan></text><text class="p" x="1626.2" y="3080.5">P<tspan class="sub">1</tspan></text><text class="p" x="1780.3" y="3184">P<tspan class="sub">1</tspan></text><text class="p" x="1634.9" y="3167" style="stroke-width:.8px">NL</text>
<text x="1679.8" y="2954" font-size="27" textLength="152">F1:  315mAT</text>
<text transform="translate(1671.7,2999) rotate(-90)" class="rot" textLength="129">150K  1/2P</text>
</g>
</svg>
